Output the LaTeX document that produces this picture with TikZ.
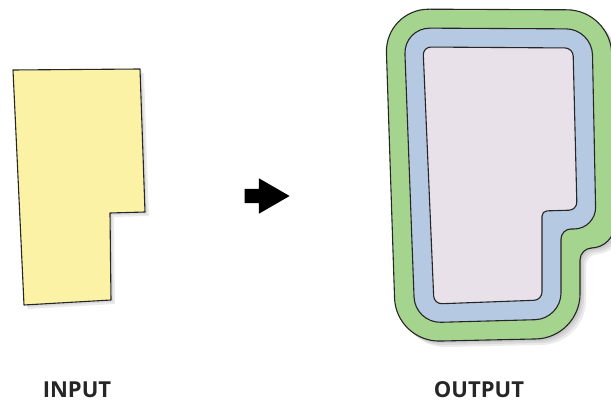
\documentclass[tikz,border=0pt]{standalone}
\usepackage{fontspec}
\setsansfont{Open Sans}
\usetikzlibrary{shapes.arrows}
\definecolor{inputyellow}{RGB}{251,242,166}
\definecolor{ringgreen}{RGB}{165,212,143}
\definecolor{ringblue}{RGB}{182,201,226}
\definecolor{corelilac}{RGB}{232,225,233}
\begin{document}
\begin{tikzpicture}[x=1pt, y=-1pt,
		rim/.style={draw=black!85, line width=1.1pt, line join=round},
		softshadow/.style={fill=black, opacity=0.08},
		caption/.style={font=\sffamily\bfseries\fontsize{22}{26}\selectfont, text=black!85, anchor=base, inner sep=0pt}]
		\useasboundingbox (0,0) rectangle (611,401);

		\foreach \s in {2,4}
			\fill[softshadow, shift={(\s,\s)}] (13,70) -- (140,69) -- (145,212) -- (110,213) -- (111,300) -- (24,305) -- cycle;
		\draw[rim, fill=inputyellow] (13,70) -- (140,69) -- (145,212) -- (110,213) -- (111,300) -- (24,305) -- cycle;

		\node[single arrow, fill=black, inner xsep=0pt, inner ysep=7pt, minimum height=45, single arrow head extend=10.5, single arrow tip angle=60, anchor=tip] (flow) at (290,196) {};

		\foreach \s in {2,4,6}
			\fill[softshadow, shift={(\s,\s)}, rounded corners=44] (385,9) -- (611,10) [rounded corners=24] -- (615,248) [rounded corners=12] -- (580,248) [rounded corners=44] -- (580,338) -- (396,342) -- cycle;
		\draw[rim, fill=ringgreen, rounded corners=44] (385,9) -- (611,10) [rounded corners=24] -- (615,248) [rounded corners=12] -- (580,248) [rounded corners=44] -- (580,338) -- (396,342) -- cycle;
		\draw[rim, fill=ringblue, rounded corners=26] (404,28) -- (592,29) [rounded corners=22] -- (596,229) [rounded corners=10] -- (561,229) [rounded corners=26] -- (561,319) -- (415,323) -- cycle;
		\draw[rim, fill=corelilac, rounded corners=8] (423,47) -- (573,48) -- (577,210) [rounded corners=5] -- (542,211) [rounded corners=8] -- (542,300) -- (434,304) -- cycle;

		\node[caption] (inlabel) at (77,397) {INPUT};
		\node[caption] (outlabel) at (479,397) {OUTPUT};
	\end{tikzpicture}
\end{document}
